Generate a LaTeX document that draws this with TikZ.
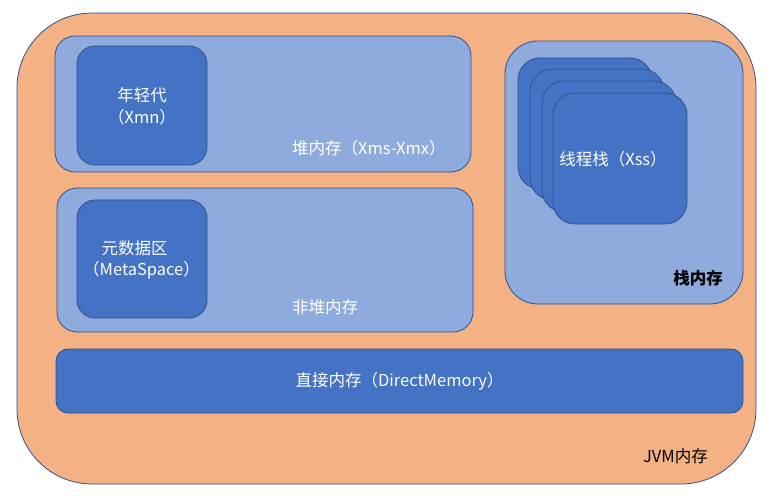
\documentclass[tikz,border=0pt]{standalone}
\usepackage{fontspec}
\setmainfont{Noto Sans CJK SC}
\definecolor{jvmorange}{HTML}{F4B183}
\definecolor{lightblue}{HTML}{8FAADC}
\definecolor{midblue}{HTML}{4472C4}
\definecolor{edgeblue}{HTML}{2F528F}
\begin{document}
\begin{tikzpicture}[x=1pt,y=-1pt,
  box/.style={draw=edgeblue, line width=0.8pt, rectangle, inner sep=0pt, outer sep=0pt},
  outerbox/.style={box, fill=jvmorange, rounded corners=75pt},
  regionbox/.style={box, fill=lightblue, rounded corners=20pt},
  innerbox/.style={box, fill=midblue, rounded corners=18pt},
  threadbox/.style={box, fill=midblue, rounded corners=22pt, minimum width=134pt, minimum height=131pt},
  wtext/.style={text=white, inner sep=0pt, font=\fontsize{16.5}{22}\selectfont, align=center},
  btext/.style={text=black, inner sep=0pt, font=\fontsize{16.5}{22}\selectfont}
]
\useasboundingbox (0,0) rectangle (772,500);
% outer JVM box
\node[outerbox, minimum width=739pt, minimum height=471pt] (jvm) at (386.5,248.5) {};
% heap
\node[regionbox, minimum width=416pt, minimum height=136pt] (heap) at (263,104) {};
\node[innerbox, minimum width=130pt, minimum height=119pt] (young) at (142,105.5) {};
\node[wtext] (youngtxt) at (142,106) {年轻代\\（Xmn）};
\node[wtext, anchor=west] (heaptxt) at (292,148) {堆内存（Xms-Xmx）};
% non-heap
\node[regionbox, minimum width=416pt, minimum height=144pt] (nonheap) at (265,260) {};
\node[innerbox, minimum width=130pt, minimum height=118pt] (meta) at (142,259) {};
\node[wtext] (metatxt1) at (134.5,248) {元数据区};
\node[wtext] (metatxt2) at (141.5,270) {（MetaSpace）};
\node[wtext, anchor=west] (nonheaptxt) at (292,307) {非堆内存};
% stack
\node[box, fill=lightblue, rounded corners=33pt, minimum width=238pt, minimum height=263pt] (stack) at (624,172.5) {};
\node[threadbox] (t1) at (585,123.5) {};
\node[threadbox] (t2) at (597,134.5) {};
\node[threadbox] (t3) at (609,146.5) {};
\node[threadbox] (t4) at (620,158.5) {};
\node[wtext] (t4txt) at (613,159) {线程栈（Xss）};
\node[btext, font=\fontsize{16.5}{22}\selectfont\bfseries, anchor=east] (stacktxt) at (723,278) {栈内存};
% direct memory
\node[box, fill=midblue, rounded corners=12pt, minimum width=687pt, minimum height=64pt] (direct) at (399.5,381) {};
\node[wtext] (directtxt) at (direct.center) {直接内存（DirectMemory）};
% JVM label
\node[btext, anchor=east] (jvmtxt) at (708,456) {JVM内存};
\end{tikzpicture}
\end{document}
